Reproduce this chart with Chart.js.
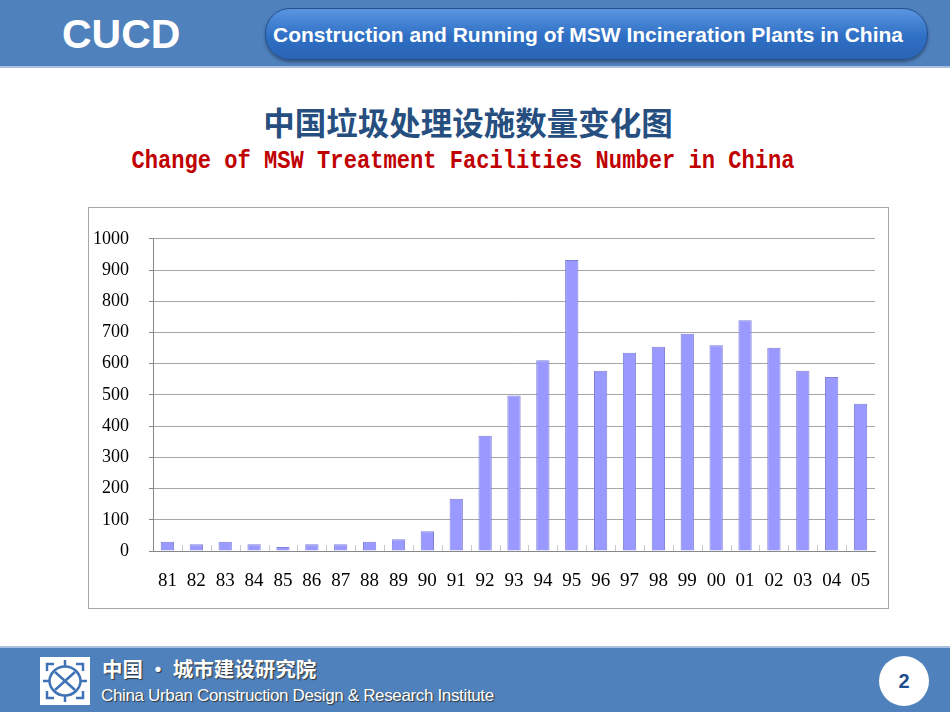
<!DOCTYPE html>
<html>
<head>
<meta charset="utf-8">
<script src="https://cdn.jsdelivr.net/npm/chart.js@4.4.1/dist/chart.umd.min.js"></script>
<style>
  body { margin: 0; width: 950px; height: 713px; position: relative; background: #fff; font-family: "Liberation Sans", Arial, sans-serif; overflow: hidden; }
  .topo { position: absolute; left: 0; top: 0; width: 950px; height: 66px; background: #4f81bd; border-bottom: 2px solid #a9c0de; }
  .sigla { position: absolute; left: 62px; top: 11px; color: #fff; font-weight: bold; font-size: 41px; }
  .pilula { position: absolute; left: 265px; top: 8px; width: 661px; height: 50px; border-radius: 25px;
    background: linear-gradient(#5a95e0, #2f6fc4 55%, #2a64b5); border: 1px solid #24508f;
    box-shadow: 0 2px 3px rgba(0,0,0,0.35); color: #fff; font-weight: bold; font-size: 21px; }
  .pilula span { position: absolute; left: 7px; top: 14px; white-space: nowrap; }
  .titulo-cn { position: absolute; left: 0; width: 936px; top: 101px; text-align: center; font-family: "Noto Sans CJK SC"; font-weight: bold; font-size: 31.5px; line-height: 40px; color: #264f7f; }
  .titulo-en { position: absolute; left: 0; width: 926px; top: 145px; text-align: center; font-family: "Liberation Mono", monospace; font-weight: bold; font-size: 26px; line-height: 32px; color: #c00000; transform: scaleX(0.85); transform-origin: 463px 0; }
  .caixa { position: absolute; left: 88px; top: 207px; width: 799px; height: 400px; border: 1px solid #a6a6a6; }
  .rodape { position: absolute; left: 0; top: 646px; width: 950px; height: 64px; background: #4f81bd; border-top: 2px solid #a9c0de; }
  .logo { position: absolute; left: 40px; top: 9px; width: 50px; height: 48px; background: #fff; }
  .rod-cn { position: absolute; left: 102px; top: 5px; color: #fff; font-family: "Noto Sans CJK SC"; font-weight: bold; font-size: 20.5px; text-shadow: 1px 1px 1px #333; }
  .rod-en { position: absolute; left: 101px; top: 38px; color: #fff; font-size: 17px; text-shadow: 1px 1px 1px #333; letter-spacing: -0.35px; }
  .pagina { position: absolute; left: 879px; top: 8px; width: 50px; height: 50px; border-radius: 25px; background: #fff; color: #1f4e8f; font-weight: bold; font-size: 20px; text-align: center; line-height: 50px; }
</style>
</head>
<body>
<div class="topo">
  <div class="sigla">CUCD</div>
  <div class="pilula"><span>Construction and Running of MSW Incineration Plants in China</span></div>
</div>
<div class="titulo-cn">中国垃圾处理设施数量变化图</div>
<div class="titulo-en">Change of MSW Treatment Facilities Number in China</div>
<div class="caixa"><canvas id="grafico1" width="799" height="400"></canvas></div>
<div class="rodape">
  <div class="logo">
    <svg width="50" height="48" viewBox="0 0 50 48">
      <g fill="none" stroke="#3f73b6" stroke-width="2.5">
        <path d="M7 14 V7 H14 M36 7 H43 V14 M43 34 V41 H36 M14 41 H7 V34"/>
        <path d="M25 3 V10 M25 38 V45 M3 24 H10 M40 24 H47"/>
        <path d="M14 14 C20 8 30 8 36 14 C42 20 42 28 36 34 C30 40 20 40 14 34 C8 28 8 20 14 14 Z"/>
        <path d="M15 33 L35 15 M15 15 L35 33"/>
      </g>
    </svg>
  </div>
  <div class="rod-cn">中国 · 城市建设研究院</div>
  <div class="rod-en">China Urban Construction Design &amp; Research Institute</div>
  <div class="pagina">2</div>
</div>

<script>
// dados do grafico
const anos = ['81','82','83','84','85','86','87','88','89','90','91','92','93','94','95','96','97','98','99','00','01','02','03','04','05'];
const instalacoes = [30, 22, 30, 22, 13, 22, 22, 30, 38, 63, 167, 369, 498, 611, 932, 577, 635, 654, 696, 659, 739, 651, 577, 557, 472];
const ticksY = [0, 100, 200, 300, 400, 500, 600, 700, 800, 900, 1000];

// plugin para desenhar os tracinhos entre as categorias
const tracinhos = {
  id: 'tracinhos',
  afterDatasetsDraw(chart) {
    const ctx = chart.ctx;
    const x = chart.scales.x;
    const y0 = chart.scales.y.getPixelForValue(0);
    const passo = x.getPixelForValue(1) - x.getPixelForValue(0);
    ctx.save();
    ctx.strokeStyle = '#c8c8c8';
    ctx.lineWidth = 1;
    for (let i = 1; i < anos.length; i++) {
      const px = Math.round(x.getPixelForValue(i) - passo / 2) + 0.5;
      ctx.beginPath();
      ctx.moveTo(px, y0);
      ctx.lineTo(px, y0 - 6);
      ctx.stroke();
    }
    ctx.restore();
  }
};

const ctx = document.getElementById('grafico1').getContext('2d');

const grafico1 = new Chart(ctx, {
  type: 'bar',
  data: {
    labels: anos,
    datasets: [{
      data: instalacoes,
      backgroundColor: '#9999ff',
      borderColor: '#7f7fd8',
      borderWidth: 1,
      categoryPercentage: 1,
      barPercentage: 0.46
    }]
  },
  options: {
    responsive: false,
    animation: false,
    layout: { padding: { top: 29, right: 13, bottom: 0, left: 0 } },
    plugins: { legend: { display: false }, tooltip: { enabled: false } },
    scales: {
      x: {
        grid: { display: false },
        border: { color: '#888888' },
        ticks: { color: '#000', font: { family: 'Liberation Serif', size: 19 }, padding: 11, maxRotation: 0, autoSkip: false },
        afterFit(scale) { scale.height = 57; }
      },
      y: {
        min: 0,
        max: 1000,
        afterBuildTicks(scale) { scale.ticks = ticksY.map(v => ({ value: v })); },
        grid: { color: '#a6a6a6', tickLength: 4, tickColor: '#888888' },
        border: { color: '#888888' },
        ticks: { color: '#000', font: { family: 'Liberation Serif', size: 18 }, padding: 20, callback: v => String(v) },
        afterFit(scale) { scale.width = 64; }
      }
    }
  },
  plugins: [tracinhos]
});
</script>
</body>
</html>
